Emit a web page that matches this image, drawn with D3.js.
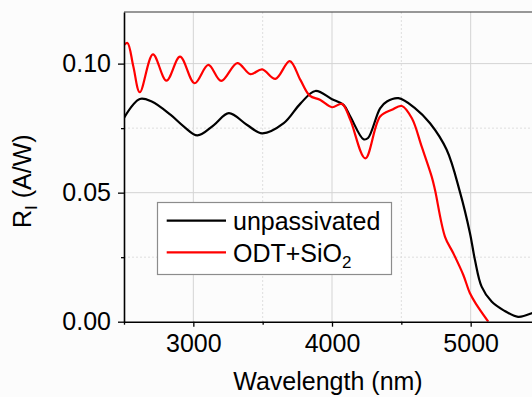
<!DOCTYPE html>
<html>
<head>
<meta charset="utf-8">
<script src="https://cdn.jsdelivr.net/npm/d3@7"></script>
<style>
  html, body { margin: 0; padding: 0; background: #fcfcfc; }
  svg { display: block; font-family: "Liberation Sans", Arial, sans-serif; }
</style>
</head>
<body>
<div id="chart"></div>
<script>
// data -----------------------------------------------------------------------
const seriesNames = ['unpassivated', 'ODT+SiO2'];
const seriesColors = ['#000000', '#ff0000'];

const unpassWl = [2500, 2614, 2700, 2837, 2932, 3029, 3148, 3256, 3388, 3496, 3652, 3772, 3880, 4000, 4083,
  4132, 4227, 4260, 4347, 4396, 4479, 4600, 4707, 4827, 4923, 4995, 5031, 5079, 5151, 5235, 5342, 5441, 5500];
const unpassR = [0.0790, 0.0863, 0.0853, 0.0801, 0.0756, 0.0722, 0.0762, 0.0808, 0.0762, 0.0730, 0.0769, 0.0845, 0.0894, 0.0862, 0.0840,
  0.0795, 0.0707, 0.0712, 0.0827, 0.0853, 0.0866, 0.0827, 0.0769, 0.0666, 0.0502, 0.0343, 0.0239, 0.0136, 0.0078, 0.0045, 0.0019, 0.0033, 0.0050];

const odtWl = [2500, 2525, 2567, 2614, 2709, 2806, 2904, 3009, 3108, 3201, 3317, 3412, 3496, 3592, 3695, 3772, 3839, 3916,
  4000, 4072, 4132, 4240, 4347, 4432, 4504, 4576, 4647, 4719, 4743, 4815, 4875, 4947, 4995, 5043, 5127];
const odtR = [0.1072, 0.1080, 0.0990, 0.0889, 0.1036, 0.0934, 0.1027, 0.0924, 0.0995, 0.0933, 0.1002, 0.0959, 0.0978, 0.0941, 0.1010, 0.0937, 0.0876, 0.0859,
  0.0831, 0.0844, 0.0782, 0.0633, 0.0795, 0.0821, 0.0836, 0.0788, 0.0678, 0.0562, 0.0510, 0.0329, 0.0265, 0.0181, 0.0110, 0.0065, 0.0000];

const xMajor = [3000, 4000, 5000];
const xMinor = [2500, 3500, 4500];
const yMajor = [0, 0.05, 0.10];
const yMinor = [0.025, 0.075];

// layout ------------------------------------------------------------------------
const width = 532;
const height = 397;
const plotL = 124, plotT = 12, plotR = 540, plotB = 321.7;
const fontSize = 25;

const svg = d3.select('#chart').append('svg')
  .attr('width', width)
  .attr('height', height);

const x = d3.scaleLinear().domain([2500, 5500]).range([plotL, plotR]);
const y = d3.scaleLinear().domain([0, 0.12]).range([plotB, plotT]);

svg.append('defs').append('clipPath').attr('id', 'plot-clip')
  .append('rect')
  .attr('x', plotL).attr('y', plotT)
  .attr('width', plotR - plotL).attr('height', plotB - plotT);

// grid --------------------------------------------------------------------------
const grid = svg.append('g');
grid.selectAll('.vmaj').data(xMajor).enter().append('line')
  .attr('x1', d => x(d)).attr('x2', d => x(d))
  .attr('y1', plotT).attr('y2', plotB)
  .attr('stroke', '#d4d4d4').attr('stroke-width', 1);
grid.selectAll('.vmin').data(xMinor.slice(1)).enter().append('line')
  .attr('x1', d => x(d)).attr('x2', d => x(d))
  .attr('y1', plotT).attr('y2', plotB)
  .attr('stroke', '#dedede').attr('stroke-width', 1).attr('stroke-dasharray', '2,2');
grid.selectAll('.hmaj').data(yMajor.slice(1)).enter().append('line')
  .attr('x1', plotL).attr('x2', plotR)
  .attr('y1', d => y(d)).attr('y2', d => y(d))
  .attr('stroke', '#d4d4d4').attr('stroke-width', 1);
grid.selectAll('.hmin').data(yMinor).enter().append('line')
  .attr('x1', plotL).attr('x2', plotR)
  .attr('y1', d => y(d)).attr('y2', d => y(d))
  .attr('stroke', '#dedede').attr('stroke-width', 1).attr('stroke-dasharray', '2,2');

// top frame line
svg.append('line')
  .attr('x1', plotL).attr('x2', plotR)
  .attr('y1', plotT).attr('y2', plotT)
  .attr('stroke', '#333').attr('stroke-width', 1.2);

// curves ------------------------------------------------------------------------
const line = d3.line()
  .x(d => x(d[0]))
  .y(d => y(d[1]))
  .curve(d3.curveCatmullRom.alpha(0.5));

const series = [
  d3.zip(unpassWl, unpassR),
  d3.zip(odtWl, odtR)
];

svg.append('g').attr('clip-path', 'url(#plot-clip)')
  .selectAll('path')
  .data(series)
  .enter()
  .append('path')
  .attr('d', line)
  .attr('fill', 'none')
  .attr('stroke', (d, i) => seriesColors[i])
  .attr('stroke-width', 2.2)
  .attr('stroke-linejoin', 'round');

// axes --------------------------------------------------------------------------
svg.append('g')
  .attr('transform', 'translate(' + plotL + ',0)')
  .call(d3.axisLeft(y).tickValues(yMajor).tickFormat(d3.format('.2f'))
    .tickSize(6).tickSizeOuter(0).tickPadding(7));
svg.append('g')
  .attr('transform', 'translate(' + plotL + ',0)')
  .call(d3.axisLeft(y).tickValues(yMinor).tickFormat('').tickSize(3).tickSizeOuter(0))
  .select('.domain').remove();

svg.append('g')
  .attr('transform', 'translate(0,' + plotB + ')')
  .call(d3.axisBottom(x).tickValues(xMajor).tickFormat(d3.format('d'))
    .tickSize(5).tickSizeOuter(0).tickPadding(8));
svg.append('g')
  .attr('transform', 'translate(0,' + plotB + ')')
  .call(d3.axisBottom(x).tickValues(xMinor).tickFormat('').tickSize(3).tickSizeOuter(0))
  .select('.domain').remove();

svg.selectAll('.domain').attr('stroke', '#000').attr('stroke-width', 1.6);
svg.selectAll('.tick line').attr('stroke', '#000').attr('stroke-width', 1.3);
svg.selectAll('.tick text')
  .attr('font-size', fontSize + 'px')
  .attr('font-family', '"Liberation Sans", Arial, sans-serif')
  .attr('fill', '#000');

// axis titles -------------------------------------------------------------------
svg.append('text')
  .attr('x', 328)
  .attr('y', 390)
  .attr('text-anchor', 'middle')
  .attr('font-size', fontSize + 'px')
  .text('Wavelength (nm)');

const yTitle = svg.append('text')
  .attr('transform', 'translate(31,228) rotate(-90)')
  .attr('font-size', fontSize + 'px');
yTitle.append('tspan').text('R');
yTitle.append('tspan').attr('font-size', '17px').attr('dy', 6).text('I');
yTitle.append('tspan').attr('dy', -6).text(' (A/W)');

// legend ------------------------------------------------------------------------
const legend = svg.append('g');
legend.append('rect')
  .attr('x', 157.5).attr('y', 202.5)
  .attr('width', 234).attr('height', 72)
  .attr('fill', '#ffffff')
  .attr('stroke', '#8c8c8c')
  .attr('stroke-width', 1.2);

const rows = [220.7, 252.3];
rows.forEach((ry, i) => {
  legend.append('line')
    .attr('x1', 166.7).attr('x2', 226)
    .attr('y1', ry).attr('y2', ry)
    .attr('stroke', seriesColors[i])
    .attr('stroke-width', 2.2);
});
legend.append('text')
  .attr('x', 233).attr('y', rows[0] + 9.5)
  .attr('font-size', fontSize + 'px')
  .text(seriesNames[0]);
const odtLabel = legend.append('text')
  .attr('x', 233).attr('y', rows[1] + 9.5)
  .attr('font-size', fontSize + 'px');
odtLabel.append('tspan').text('ODT+SiO');
odtLabel.append('tspan').attr('font-size', '17px').attr('dy', 6).text('2');
</script>
</body>
</html>
